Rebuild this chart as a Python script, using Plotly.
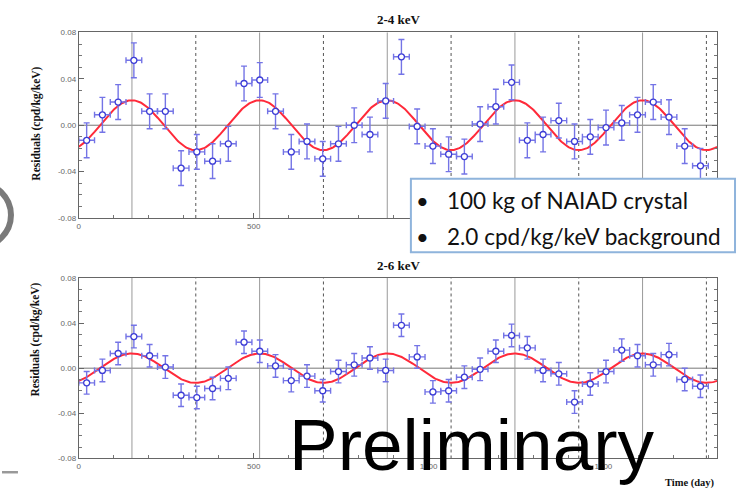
import numpy as np
import plotly.graph_objects as go

W, H = 742, 489

# ---- data ----
bin_centers = [22.5 + 45 * k for k in range(40)]
bin_halfwidth = 22.5

res_2_4 = [-0.013, 0.009, 0.020, 0.056, 0.012, 0.012, -0.037, -0.023, -0.031, -0.016,
           0.036, 0.039, 0.012, -0.023, -0.014, -0.029, -0.016, 0.000, -0.008, 0.021,
           0.059, -0.001, -0.018, -0.025, -0.027, 0.001, 0.016, 0.037, -0.013, -0.008,
           0.004, -0.014, -0.010, -0.002, 0.002, 0.009, 0.020, 0.007, -0.018, -0.035]
err_2_4 = 0.015

res_2_6 = [-0.013, -0.002, 0.013, 0.028, 0.011, 0.001, -0.024, -0.026, -0.018, -0.009,
           0.023, 0.015, 0.002, -0.011, -0.007, -0.020, -0.003, 0.003, 0.009, -0.002,
           0.038, 0.010, -0.021, -0.020, -0.008, -0.001, 0.015, 0.029, 0.018, -0.002,
           -0.005, -0.030, -0.014, -0.003, 0.016, 0.011, 0.003, 0.012, -0.010, -0.016]
err_2_6 = 0.010

# fitted modulation parameters
amp_2_4 = 0.0215
amp_2_6 = 0.013
phase_day = 152.0
period_day = 365.0

x_range = [0, 1825]
y_ticks = [-0.08, -0.04, 0.0, 0.04, 0.08]
y_ticktext = ["-0.08", "-0.04", "0.00", "0.04", "0.08"]
x_ticks = [0, 500, 1000, 1500]
x_ticktext = ["0", "500", "1000", "1500"]

panel_titles = ["2-4 keV", "2-6 keV"]
y_title = "Residuals (cpd/kg/keV)"
x_title = "Time (day)"
box_lines = ["100 kg of NAIAD crystal", "2.0 cpd/kg/keV background"]
stamp = "Preliminary"

# ---- helpers ----
def px(x):
    return x / W

def py(y):
    return 1 - y / H

t = np.linspace(x_range[0], x_range[1], 600)

fig = go.Figure()

ERR_COL = "#7474e6"
MK_COL = "#3d3dd6"
CURVE_COL = "#ff2a3a"

panels = [
    (res_2_4, err_2_4, amp_2_4, "x", "y"),
    (res_2_6, err_2_6, amp_2_6, "x2", "y2"),
]
for vals, err, amp, xa, ya in panels:
    fig.add_trace(go.Scatter(
        x=t, y=amp * np.cos(2 * np.pi * (t - phase_day) / period_day),
        mode="lines", line=dict(color=CURVE_COL, width=2),
        xaxis=xa, yaxis=ya, hoverinfo="skip", showlegend=False))
    fig.add_trace(go.Scatter(
        x=bin_centers, y=vals, mode="markers",
        marker=dict(symbol="circle", size=6, color="white",
                    line=dict(color=MK_COL, width=1.3)),
        error_y=dict(type="constant", value=err, color=ERR_COL, thickness=1.4, width=3),
        error_x=dict(type="constant", value=bin_halfwidth, color=ERR_COL, thickness=1.4, width=3),
        xaxis=xa, yaxis=ya, showlegend=False))

x_dom = [px(77), px(717)]
top_dom = [py(218), py(29)]
bot_dom = [py(463), py(279)]

axis_common = dict(
    showgrid=False, zeroline=False, showline=True, linecolor="#666", linewidth=1,
    mirror=True, ticks="inside", ticklen=5, tickcolor="#666",
    tickfont=dict(family="Liberation Sans", size=8, color="#666"),
)
xaxis_common = dict(axis_common, range=x_range, tickvals=x_ticks, ticktext=x_ticktext,
                    minor=dict(dtick=100, tick0=0, ticks="inside", ticklen=3, tickcolor="#777"))
yaxis_common = dict(axis_common, range=[-0.08, 0.08], tickvals=y_ticks, ticktext=y_ticktext,
                    mirror="ticks",
                    minor=dict(dtick=0.01, tick0=0, ticks="inside", ticklen=3, tickcolor="#777"))

fig.update_layout(
    width=W, height=H, margin=dict(l=0, r=0, t=0, b=0),
    paper_bgcolor="white", plot_bgcolor="white",
    xaxis=dict(xaxis_common, domain=x_dom, anchor="y"),
    yaxis=dict(yaxis_common, domain=top_dom, anchor="x"),
    xaxis2=dict(xaxis_common, domain=x_dom, anchor="y2"),
    yaxis2=dict(yaxis_common, domain=bot_dom, anchor="x2"),
)

shapes = []
for xa, ya in [("x", "y"), ("x2", "y2")]:
    # zero line
    shapes.append(dict(type="line", xref=f"{xa} domain", yref=ya, x0=0, x1=1, y0=0, y1=0,
                       line=dict(color="#777", width=1), layer="below"))
    for k in range(5):
        xmax = phase_day + period_day * k
        xmin = xmax + period_day / 2
        shapes.append(dict(type="line", xref=xa, yref=f"{ya} domain", x0=xmax, x1=xmax, y0=0, y1=1,
                           line=dict(color="#999", width=1), layer="below"))
        if xmin <= x_range[1]:
            shapes.append(dict(type="line", xref=xa, yref=f"{ya} domain", x0=xmin, x1=xmin, y0=0, y1=1,
                               line=dict(color="#555", width=1, dash="dot"), layer="below"))

# info box
shapes.append(dict(type="rect", xref="paper", yref="paper",
                   x0=px(410), x1=px(735), y0=py(253), y1=py(178),
                   fillcolor="white", line=dict(color="#8fb4dc", width=2), layer="above"))
# decorative slide remnants
shapes.append(dict(type="circle", xref="paper", yref="paper",
                   x0=px(-58), x1=px(9), y0=py(248), y1=py(182),
                   fillcolor="rgba(0,0,0,0)", line=dict(color="#7a7a7a", width=6), layer="above"))
shapes.append(dict(type="line", xref="paper", yref="paper",
                   x0=px(0), x1=px(16), y0=py(477), y1=py(477),
                   line=dict(color="#999", width=2.5), layer="above"))
fig.update_layout(shapes=shapes)

serif_bold = dict(family="Liberation Serif", color="#111")
ann = []
ann.append(dict(text=f"<b>{panel_titles[0]}</b>", x=px(398), y=py(16), xref="paper", yref="paper",
                showarrow=False, font=dict(serif_bold, size=13), xanchor="center", yanchor="middle"))
ann.append(dict(text=f"<b>{panel_titles[1]}</b>", x=px(398), y=py(266), xref="paper", yref="paper",
                showarrow=False, font=dict(serif_bold, size=13), xanchor="center", yanchor="middle"))
ann.append(dict(text=f"<b>{y_title}</b>", x=px(35), y=py(122), xref="paper", yref="paper",
                showarrow=False, textangle=-90, font=dict(serif_bold, size=11.5),
                xanchor="center", yanchor="middle"))
ann.append(dict(text=f"<b>{y_title}</b>", x=px(34), y=py(342), xref="paper", yref="paper",
                showarrow=False, textangle=-90, font=dict(serif_bold, size=11.5),
                xanchor="center", yanchor="middle"))
ann.append(dict(text=f"<b>{x_title}</b>", x=px(690), y=py(488), xref="paper", yref="paper",
                showarrow=False, font=dict(serif_bold, size=10.5), xanchor="center", yanchor="middle"))
for i, line in enumerate(box_lines):
    yy = [200, 237][i]
    ann.append(dict(text="•", x=px(422), y=py(yy), xref="paper", yref="paper", showarrow=False,
                    font=dict(family="Lato", size=22, color="#111"), xanchor="center", yanchor="middle"))
    ann.append(dict(text=line, x=px(444), y=py(yy), xref="paper", yref="paper", showarrow=False,
                    font=dict(family="Lato", size=22.5, color="#111"), xanchor="left", yanchor="middle"))
ann.append(dict(text=stamp, x=px(471), y=py(449), xref="paper", yref="paper", showarrow=False,
                font=dict(family="Liberation Sans", size=73, color="black"),
                xanchor="center", yanchor="middle"))
fig.update_layout(annotations=ann)

fig.write_html("out.html")
